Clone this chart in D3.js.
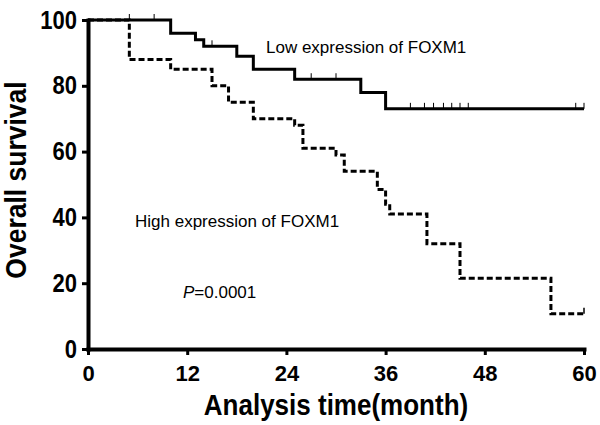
<!DOCTYPE html>
<html>
<head>
<meta charset="utf-8">
<script src="https://cdn.jsdelivr.net/npm/d3@7"></script>
<style>
  body { margin: 0; background: #fff; }
  text { font-family: Arial, "Liberation Sans", sans-serif; }
</style>
</head>
<body>
<svg width="600" height="425"></svg>
<script>
// step curves: time (months) and survival (%)
var lowTimes = [0, 10, 13, 14, 18, 20, 25, 33, 36, 60];
var lowSurv = [100, 96, 94, 92, 89, 85, 82, 78, 73, 73];
var lowCensor = [5, 8, 15, 27, 30, 39, 40.7, 41.8, 43, 44, 45, 46, 59, 60];

var highTimes = [0, 5, 10, 15, 17, 20, 25, 26, 30, 31, 35, 36, 36.5, 41, 45, 56, 60];
var highSurv = [100, 88, 85, 80, 75, 70, 68, 61, 59, 54, 48.5, 44, 41, 32, 21.5, 10.7, 10.7];
var highCensor = [60];

var xTicks = [0, 12, 24, 36, 48, 60];
var yTicks = [0, 20, 40, 60, 80, 100];

var svg = d3.select('svg');

var x = d3.scaleLinear().domain([0, 60]).range([88, 584]);
var y = d3.scaleLinear().domain([0, 100]).range([349, 20]);

function pts(times, surv) {
  return times.map(function(t, i) { return { t: t, s: surv[i] }; });
}

// survival value at time t for a step curve
function survAt(times, surv, t) {
  var v = surv[0];
  for (var i = 0; i < times.length; ++i) {
    if (times[i] <= t) v = surv[i];
  }
  return v;
}

var line = d3.line()
    .x(function(d) { return x(d.t); })
    .y(function(d) { return y(d.s); })
    .curve(d3.curveStepAfter);

svg.append('path')
    .datum(pts(lowTimes, lowSurv))
    .attr('d', line)
    .attr('fill', 'none')
    .attr('stroke', '#000')
    .attr('stroke-width', 3);

svg.append('path')
    .datum(pts(highTimes, highSurv))
    .attr('d', line)
    .attr('fill', 'none')
    .attr('stroke', '#000')
    .attr('stroke-width', 3)
    .attr('stroke-dasharray', '6,3');

// censor marks
svg.selectAll('.cl').data(lowCensor).enter().append('line')
    .attr('x1', function(d) { return x(d); })
    .attr('x2', function(d) { return x(d); })
    .attr('y1', function(d) { return y(survAt(lowTimes, lowSurv, d)); })
    .attr('y2', function(d) { return y(survAt(lowTimes, lowSurv, d)) - 6; })
    .attr('stroke', '#000')
    .attr('stroke-width', 1);

svg.selectAll('.ch').data(highCensor).enter().append('line')
    .attr('x1', function(d) { return x(d); })
    .attr('x2', function(d) { return x(d); })
    .attr('y1', function(d) { return y(survAt(highTimes, highSurv, d)); })
    .attr('y2', function(d) { return y(survAt(highTimes, highSurv, d)) - 6; })
    .attr('stroke', '#000')
    .attr('stroke-width', 1.5);

// axes
var xAxis = svg.append('g')
    .attr('transform', 'translate(0,349)')
    .call(d3.axisBottom(x).tickValues(xTicks).tickSize(6).tickPadding(10).tickSizeOuter(0));
var yAxis = svg.append('g')
    .attr('transform', 'translate(88,0)')
    .call(d3.axisLeft(y).tickValues(yTicks).tickSize(6).tickPadding(5).tickSizeOuter(0));

[xAxis, yAxis].forEach(function(a) {
  a.select('.domain').attr('stroke-width', 4).attr('stroke-linecap', 'square');
  a.selectAll('.tick line').attr('stroke-width', 3);
  a.selectAll('text')
      .attr('font-family', 'Arial, "Liberation Sans", sans-serif')
      .attr('font-size', 22)
      .attr('font-weight', 'bold')
      .attr('fill', '#000');
});
yAxis.selectAll('text').attr('transform', 'scale(1,1.15)');

svg.append('text')
    .attr('transform', 'translate(336,415) scale(1,1.1)')
    .attr('text-anchor', 'middle')
    .attr('font-size', 26).attr('font-weight', 'bold')
    .text('Analysis time(month)');

svg.append('text')
    .attr('transform', 'translate(26,180) rotate(-90) scale(1,1.1)')
    .attr('text-anchor', 'middle')
    .attr('font-size', 26.5).attr('font-weight', 'bold')
    .text('Overall survival');

svg.append('text')
    .attr('x', 266).attr('y', 53)
    .attr('font-size', 17)
    .text('Low expression of FOXM1');

svg.append('text')
    .attr('x', 135).attr('y', 227)
    .attr('font-size', 17)
    .text('High expression of FOXM1');

var p = svg.append('text')
    .attr('x', 183).attr('y', 298)
    .attr('font-size', 17);
p.append('tspan').attr('font-style', 'italic').text('P');
p.append('tspan').text('=0.0001');
</script>
</body>
</html>
